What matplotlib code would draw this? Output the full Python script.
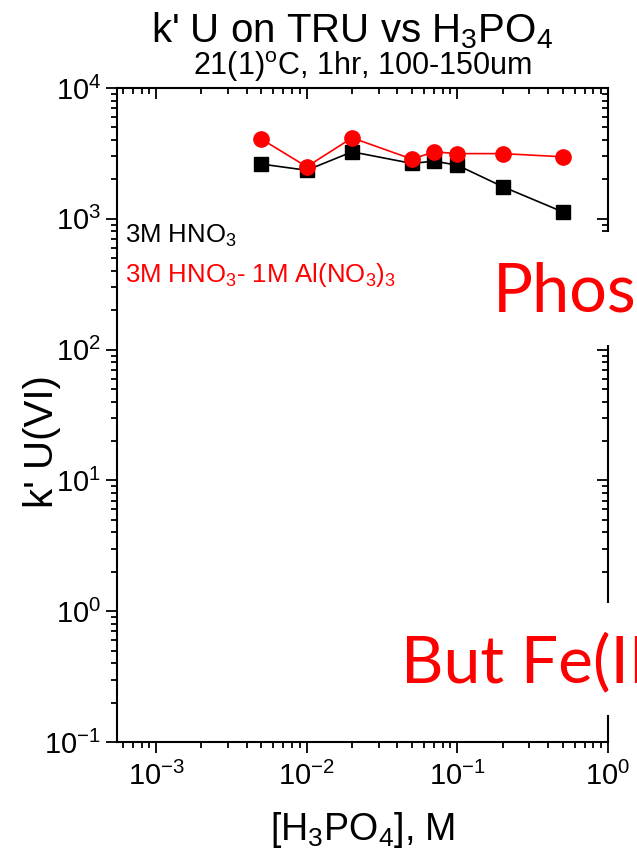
import numpy as np
import matplotlib
matplotlib.use("Agg")
import matplotlib.pyplot as plt
from matplotlib.ticker import LogLocator, LogFormatterMathtext, NullFormatter
from matplotlib.patches import Rectangle

# font tipo arial per il grafico, lato per le note rosse
plt.rcParams['font.family'] = ['Liberation Sans', 'DejaVu Sans']
plt.rcParams['mathtext.fontset'] = 'custom'
plt.rcParams['mathtext.rm'] = 'Liberation Sans'
plt.rcParams['mathtext.it'] = 'Liberation Sans'
plt.rcParams['mathtext.default'] = 'regular'

## dati ##
h3po4 = [0.005, 0.01, 0.02, 0.05, 0.07, 0.1, 0.2, 0.5]
k_hno3 = [2620, 2350, 3250, 2650, 2760, 2570, 1760, 1130]
k_hno3_al = [4070, 2500, 4160, 2860, 3250, 3150, 3150, 2980]

serie_nomi = [r"3M HNO$_3$", r"3M HNO$_3$- 1M Al(NO$_3$)$_3$"]
serie_colori = ["black", "red"]
note = ["Phos", "But Fe(II"]

W, H = 637, 859
pos = [117 / W, 1 - 742 / H, (608 - 117) / W, (742 - 88) / H]
fig = plt.figure(figsize=(W / 100, H / 100), dpi=100)
ax = fig.add_axes(pos)

ax.plot(h3po4, k_hno3, color=serie_colori[0], lw=1.2, marker="s", ms=10, zorder=3)
ax.plot(h3po4, k_hno3_al, color=serie_colori[1], lw=1.2, marker="o", ms=11, zorder=4)


def assi_log(a):
    a.set_xscale("log")
    a.set_yscale("log")
    a.set_xlim(5.5e-4, 1)
    a.set_ylim(0.1, 1e4)
    for axis in (a.xaxis, a.yaxis):
        axis.set_major_locator(LogLocator(base=10, numticks=20))
        axis.set_minor_locator(LogLocator(base=10, subs=np.arange(2, 10), numticks=20))
        axis.set_minor_formatter(NullFormatter())


assi_log(ax)
ax.xaxis.set_major_formatter(LogFormatterMathtext())
ax.yaxis.set_major_formatter(LogFormatterMathtext())
for sp in ax.spines.values():
    sp.set_linewidth(1.5)

ax.tick_params(which="both", direction="out", width=1.3, labelsize=21, top=False, right=False)
ax.tick_params(which="major", length=8)
ax.tick_params(which="minor", length=4)
ax.tick_params(axis="x", pad=6)

# secondo asse sovrapposto: tacche sopra e a destra verso l'interno
ax2 = fig.add_axes(pos, frameon=False)
ax2.patch.set_visible(False)
assi_log(ax2)
ax2.tick_params(which="both", direction="in", width=1.3, bottom=False, left=False,
                top=True, right=True, labelbottom=False, labelleft=False)
ax2.tick_params(which="major", length=8)
ax2.tick_params(which="minor", length=4)

ax.set_xlabel(r"[H$_3$PO$_4$], M", fontsize=27, labelpad=14)
ax.set_ylabel("k' U(VI)", fontsize=29)
ax.yaxis.set_label_coords(-0.115, 0.459)

fig.text(352 / W, 1 - 42 / H, r"k' U on TRU vs H$_3$PO$_4$", fontsize=29, ha="center", va="baseline")
fig.text(362 / W, 1 - 75 / H, r"21(1)$^{o}$C, 1hr, 100-150um", fontsize=22, ha="center", va="baseline")

# legenda scritta a mano
fig.text(125 / W, 1 - 243 / H, serie_nomi[0], color=serie_colori[0], fontsize=18.5, va="baseline")
fig.text(125 / W, 1 - 282 / H, serie_nomi[1], color=serie_colori[1], fontsize=18.5, va="baseline")

# riquadri bianchi con le note in rosso
fig.patches.append(Rectangle((480 / W, 1 - 345 / H), (W - 480) / W, (345 - 232) / H,
                             transform=fig.transFigure, facecolor="white", edgecolor="none", zorder=5))
fig.patches.append(Rectangle((390 / W, 1 - 715 / H), (W - 390) / W, (715 - 603) / H,
                             transform=fig.transFigure, facecolor="white", edgecolor="none", zorder=5))
fig.text(493 / W, 1 - 312 / H, note[0], color="red", fontsize=48, family="Lato", va="baseline", zorder=6)
fig.text(401 / W, 1 - 682 / H, note[1], color="red", fontsize=47.5, family="Lato", va="baseline", zorder=6)

fig.savefig("out.png", dpi=100)
